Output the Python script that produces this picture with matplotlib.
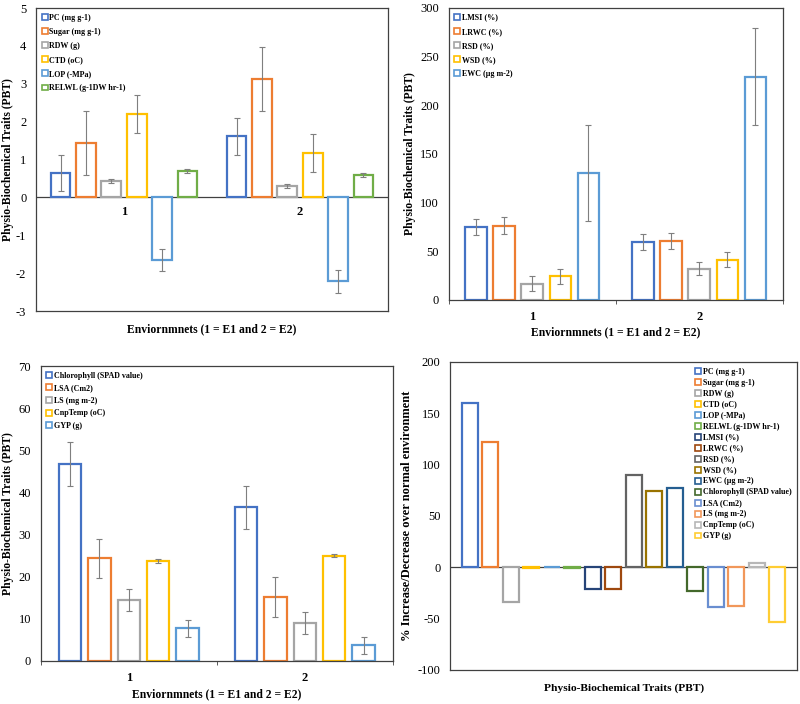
import numpy as np
import matplotlib.pyplot as plt
from matplotlib.patches import Patch

plt.rcParams['font.family'] = ['Liberation Serif', 'DejaVu Serif']
plt.rcParams['axes.unicode_minus'] = False

# ---- data ----
envs = ['1', '2']

p1_traits = ['PC (mg g-1)', 'Sugar (mg g-1)', 'RDW (g)', 'CTD (oC)', 'LOP (-MPa)', 'RELWL (g-1DW hr-1)']
p1_vals = [[0.64, 1.61], [1.43, 3.13], [0.44, 0.30], [2.21, 1.18], [-1.65, -2.22], [0.70, 0.59]]
p1_err = [[0.48, 0.48], [0.85, 0.85], [0.05, 0.05], [0.50, 0.50], [0.28, 0.30], [0.05, 0.05]]

p2_traits = ['LMSI (%)', 'LRWC (%)', 'RSD (%)', 'WSD (%)', 'EWC (µg m-2)']
p2_vals = [[75.1, 59.7], [76.5, 60.7], [16.8, 32.2], [24.3, 41.5], [130.3, 229.4]]
p2_err = [[8, 8], [8.5, 8], [7.5, 7], [8, 8], [49, 49.5]]

p3_traits = ['Chlorophyll (SPAD value)', 'LSA (Cm2)', 'LS (mg m-2)', 'CnpTemp (oC)', 'GYP (g)']
p3_vals = [[46.8, 36.5], [24.4, 15.2], [14.5, 9.1], [23.8, 25.0], [7.8, 3.7]]
p3_err = [[5.2, 5.1], [4.6, 4.7], [2.6, 2.6], [0.5, 0.4], [2.0, 2.0]]

p4_traits = ['PC (mg g-1)', 'Sugar (mg g-1)', 'RDW (g)', 'CTD (oC)', 'LOP (-MPa)',
             'RELWL (g-1DW hr-1)', 'LMSI (%)', 'LRWC (%)', 'RSD (%)', 'WSD (%)',
             'EWC (µg m-2)', 'Chlorophyll (SPAD value)', 'LSA (Cm2)', 'LS (mg m-2)',
             'CnpTemp (oC)', 'GYP (g)']
p4_vals = [159.6, 122.3, -34.0, -0.5, 0.5, -0.3, -21.4, -21.0, 89.8, 74.3,
           77.5, -22.7, -38.3, -37.3, 4.2, -53.5]

office = ['#4472C4', '#ED7D31', '#A5A5A5', '#FFC000', '#5B9BD5', '#70AD47',
          '#264478', '#9E480E', '#636363', '#997300', '#255E91', '#43682B',
          '#698ED0', '#F1975A', '#B7B7B7', '#FFCD33']

fig = plt.figure(figsize=(8, 7.04), dpi=100)

xlab = 'Enviornmnets (1 = E1 and 2 = E2)'
ylab = 'Physio-Biochemical Traits (PBT)'
LAB = dict(fontsize=8.4, fontweight='bold')
LEG = dict(frameon=False, prop={'weight': 'bold', 'size': 5.8}, handlelength=0.75,
           handleheight=0.75, handletextpad=0.2, borderaxespad=0.3)


def grouped(ax, traits, vals, errs, slot, width, spacing):
    x = np.arange(len(envs))
    n = len(traits)
    for i, t in enumerate(traits):
        off = (i - (n - 1) / 2) * slot
        ax.bar(x + off, vals[i], width, facecolor='white', edgecolor=office[i], lw=1.6, zorder=2)
        ax.errorbar(x + off, vals[i], yerr=errs[i], fmt='none', ecolor='#7f7f7f',
                    elinewidth=0.8, capsize=2, capthick=0.8, zorder=3)
    ax.set_xlim(-0.5, 1.5)
    handles = [Patch(facecolor='white', edgecolor=office[i], lw=1.2, label=t) for i, t in enumerate(traits)]
    ax.legend(handles=handles, loc='upper left', labelspacing=spacing, **LEG)


def style(ax):
    for s in ax.spines.values():
        s.set_color('#404040')
        s.set_linewidth(0.9)
    ax.tick_params(axis='y', labelsize=9, length=0, pad=7)


def env_ticks(ax):
    ax.set_xticks([0, 1], envs, fontsize=9, fontweight='bold')
    ax.set_xticks([-0.5, 0.5, 1.5], minor=True)
    ax.tick_params(axis='x', which='major', length=0, pad=8)
    ax.tick_params(axis='x', which='minor', length=3, color='#404040')


# panel 1
ax1 = fig.add_axes([0.045, 0.5582, 0.44, 0.4304])
grouped(ax1, p1_traits, p1_vals, p1_err, 0.144, 0.112, 0.76)
ax1.set_ylim(-3, 5)
ax1.axhline(0, color='#404040', lw=0.9, zorder=1)
ax1.set_xticks([])
for i, e in enumerate(envs):
    ax1.annotate(e, (i, 0), xytext=(0, -6), textcoords='offset points', ha='center', va='top',
                 fontsize=9, fontweight='bold')
ax1.set_xlabel(xlab, labelpad=9, **LAB)
ax1.set_ylabel(ylab, **LAB)
ax1.yaxis.set_label_coords(-0.062, 0.5)
style(ax1)

# panel 2
ax2 = fig.add_axes([0.561, 0.5739, 0.4175, 0.4148])
grouped(ax2, p2_traits, p2_vals, p2_err, 0.168, 0.13, 0.76)
ax2.set_ylim(0, 300)
env_ticks(ax2)
ax2.set_xlabel(xlab, labelpad=2, **LAB)
ax2.set_ylabel(ylab, labelpad=3, **LAB)
style(ax2)

# panel 3
ax3 = fig.add_axes([0.051, 0.0611, 0.44, 0.419])
grouped(ax3, p3_traits, p3_vals, p3_err, 0.167, 0.127, 0.57)
ax3.set_ylim(0, 70)
env_ticks(ax3)
ax3.set_xlabel(xlab, labelpad=3, **LAB)
ax3.set_ylabel(ylab, labelpad=3, **LAB)
style(ax3)

# panel 4
ax4 = fig.add_axes([0.5625, 0.0483, 0.434, 0.4375])
x4 = np.arange(len(p4_traits))
ax4.bar(x4, p4_vals, 0.77, facecolor='white', edgecolor=office, lw=1.6, zorder=2)
ax4.axhline(0, color='#404040', lw=0.9, zorder=1)
ax4.set_xlim(-0.97, 15.97)
ax4.set_ylim(-100, 200)
ax4.set_xticks([])
handles = [Patch(facecolor='white', edgecolor=office[i], lw=1.2, label=t) for i, t in enumerate(p4_traits)]
ax4.legend(handles=handles, loc='upper right', bbox_to_anchor=(1.0, 1.0), labelspacing=0.37, **LEG)
ax4.set_xlabel('Physio-Biochemical Traits (PBT)', fontsize=8.2, fontweight='bold', labelpad=10)
ax4.set_ylabel('% Increase/Decrease over normal environment', fontsize=9, fontweight='bold', labelpad=3)
style(ax4)

fig.savefig('out.png', dpi=100)
